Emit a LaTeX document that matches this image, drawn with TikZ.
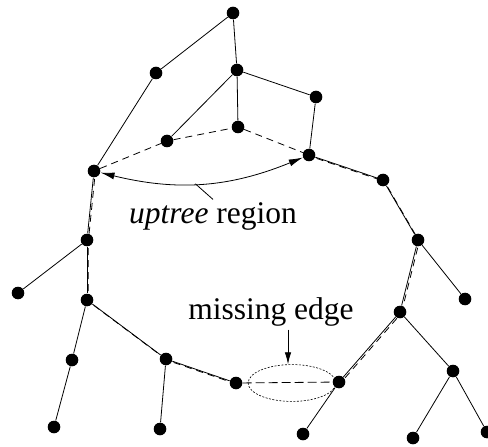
\documentclass[tikz,border=0pt]{standalone}
\usepackage{fontspec}
\setmainfont{Liberation Serif}
\usetikzlibrary{shapes.geometric,arrows.meta}
\tikzset{dot/.style={circle,fill,inner sep=0pt,minimum size=12.6bp},
  updash/.style={dash pattern=on 7bp off 5bp},
  cycdash/.style={dash pattern=on 7bp off 5bp,transform canvas={xshift=1.3bp,yshift=-1.3bp}},
  tip/.style={-{Latex[length=12bp,width=6.5bp]}},
  tips/.style={{Latex[length=14bp,width=7bp]}-{Latex[length=14bp,width=7bp]}}}

\begin{document}
\begin{tikzpicture}[x=1bp,y=-1bp,line width=0.8bp,font=\fontsize{31.5bp}{36bp}\selectfont]
  \useasboundingbox (0,0) rectangle (488,447);

  \foreach \n/\x/\y in {top/233/13, a/156/73, b/237/70, c/316/97, d/238/127,
      e/167/141, f/94/171, g/309/155, h/383/180, i/418/240, j/87/240,
      k/18/293, l/87/300, m/72/360, n/54/427, o/166/359, p/160/429,
      q/236/383, r/339/382, s/303/434, t/400/312, v/465/299, w/453/371,
      x/413/438, y/487/432} {
    \node[dot] (\n) at (\x,\y) {};
  }
  \foreach \a/\b in {top/a, top/b, a/f, b/e, b/d, b/c, c/g, g/h, h/i,
      f/j, j/k, j/l, l/m, m/n, l/o, o/p, o/q, r/s, r/t, t/i, i/v,
      t/w, w/x, w/y} {
    \draw (\a) -- (\b);
  }
  % cycle through the tree
  \draw[cycdash] (f) -- (j) -- (l) -- (o) -- (q);
  \draw[cycdash] (g) -- (h) -- (i) -- (t) -- (r);

  % uptree region
  \draw[updash] (f) -- (e) -- (d) -- (g);
  \draw[tips] (f) to[bend right=18] coordinate[pos=0.46] (ut) (g);
  \node[anchor=base] (uptree) at (213,224) {\textit{uptree} region};
  \draw (ut) -- (uptree.north);

  % missing edge
  \node[draw,ellipse,dash pattern=on 2bp off 1.5bp,line width=0.6bp,
    minimum width=88,minimum height=37] (ell) at (292,383) {};
  \draw[dash pattern=on 9bp off 4bp] (q) -- (r);
  \node[anchor=base] (missing) at (271,319) {missing edge};
  \draw[tip] ([xshift=-4bp]ell.north |- missing.south) -- ([xshift=-4bp]ell.north);
\end{tikzpicture}
\end{document}
